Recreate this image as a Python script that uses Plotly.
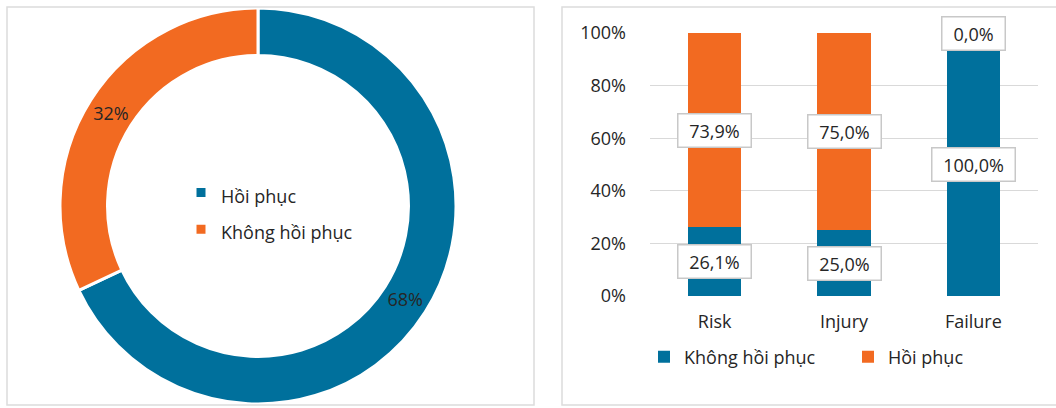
import plotly.graph_objects as go

# Donut: share of outcomes
pie_labels = ["Hồi phục", "Không hồi phục"]
pie_values = [68, 32]

# Stacked bars by RIFLE stage (percent)
categories = ["Risk", "Injury", "Failure"]
khong_hoi_phuc = [26.1, 25.0, 100.0]
hoi_phuc = [73.9, 75.0, 0.0]
y_ticks = [0, 20, 40, 60, 80, 100]
y_tick_labels = ["0%", "20%", "40%", "60%", "80%", "100%"]

W, H = 1056, 408
BLUE = "#00709C"
ORANGE = "#F26A21"
TEXT = "#262626"
GRID = "#d9d9d9"
FONT = "Open Sans"


def px_x(v):
    return v / W


def px_y(v):
    return 1 - v / H


def fmt(v):
    return f"{v:.1f}".replace(".", ",") + "%"


fig = go.Figure()

fig.add_trace(go.Pie(
    labels=[f'<span style="font-size:18px">{l}</span>' for l in pie_labels],
    values=pie_values,
    hole=0.76,
    sort=False,
    direction="clockwise",
    rotation=0,
    marker=dict(colors=[BLUE, ORANGE], line=dict(color="white", width=3)),
    texttemplate="%{percent:.0%}",
    textposition="inside",
    insidetextorientation="horizontal",
    textfont=dict(family=FONT, size=18, color=TEXT),
    domain=dict(x=[px_x(60), px_x(456)], y=[4 / H, 400 / H]),
    legend="legend2",
    hoverinfo="label+percent",
))

fig.add_trace(go.Bar(
    x=categories, y=khong_hoi_phuc, name="Không hồi phục",
    marker=dict(color=BLUE, line=dict(width=0)),
))
fig.add_trace(go.Bar(
    x=categories, y=hoi_phuc, name="Hồi phục",
    marker=dict(color=ORANGE, line=dict(width=0)),
))

# Value boxes centred on each stacked segment
annotations = []
for cat, lo, hi in zip(categories, khong_hoi_phuc, hoi_phuc):
    for y_mid, val in ((lo / 2, lo), (lo + hi / 2, hi)):
        txt = fmt(val)
        annotations.append(dict(
            x=cat, y=y_mid, xref="x", yref="y", text=txt, showarrow=False,
            font=dict(family=FONT, size=18, color=TEXT),
            bgcolor="white", bordercolor="#c8c8c8", borderwidth=1.5,
            borderpad=5, width=10 * len(txt) + 12, height=22,
        ))

# Light frames around the two panels
shapes = [
    dict(type="rect", xref="paper", yref="paper",
         x0=px_x(7), x1=px_x(534), y0=px_y(405), y1=px_y(7),
         line=dict(color="#dcdcdc", width=1.5)),
    dict(type="rect", xref="paper", yref="paper",
         x0=px_x(562), x1=1.01, y0=px_y(405), y1=px_y(7),
         line=dict(color="#dcdcdc", width=1.5)),
]

fig.update_layout(
    width=W, height=H,
    margin=dict(l=0, r=0, t=0, b=0, autoexpand=False),
    paper_bgcolor="white", plot_bgcolor="white",
    font=dict(family=FONT, color=TEXT, size=17),
    barmode="stack",
    bargap=0.59,
    showlegend=True,
    annotations=annotations,
    shapes=shapes,
    xaxis=dict(
        domain=[px_x(650), px_x(1038)],
        showline=False, ticks="", showgrid=False, zeroline=False,
        tickfont=dict(family=FONT, size=18, color=TEXT),
        ticklabelstandoff=13, fixedrange=True,
    ),
    yaxis=dict(
        domain=[px_y(296), px_y(33)],
        range=[0, 100], tickvals=y_ticks, ticktext=y_tick_labels,
        showline=False, ticks="", zeroline=False,
        showgrid=True, gridcolor=GRID, gridwidth=1,
        tickfont=dict(family=FONT, size=18, color=TEXT),
        ticklabelstandoff=23, fixedrange=True,
    ),
    legend=dict(
        orientation="h", traceorder="normal",
        x=px_x(644), xanchor="left", y=px_y(357), yanchor="middle",
        font=dict(family=FONT, size=18, color=TEXT),
        bgcolor="rgba(0,0,0,0)", entrywidth=159,
    ),
    legend2=dict(
        orientation="v",
        x=px_x(181), xanchor="left", y=px_y(211), yanchor="middle",
        font=dict(family=FONT, size=26, color=TEXT),
        bgcolor="rgba(0,0,0,0)",
    ),
)

fig.write_html("out.html")
